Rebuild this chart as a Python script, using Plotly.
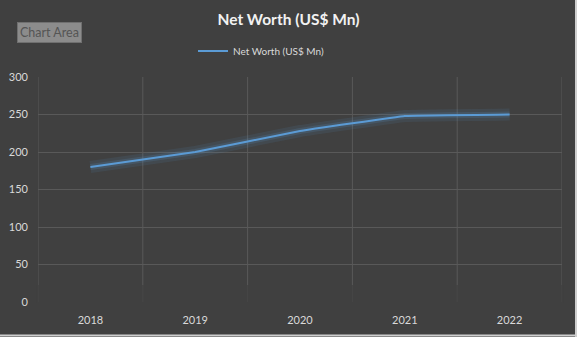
import plotly.graph_objects as go

years = ["2018", "2019", "2020", "2021", "2022"]
net_worth = [180, 200, 228, 248, 250]
y_ticks = [0, 50, 100, 150, 200, 250, 300]

W, H = 577, 337
ML, MR, MT, MB = 38, 15, 77, 35
PW, PH = W - ML - MR, H - MT - MB

def px_x(p):
    return (p - ML) / PW

def px_y(p):
    return (H - MB - p) / PH

fig = go.Figure()
# glow
fig.add_trace(go.Scatter(x=years, y=net_worth, mode="lines",
                         line=dict(color="rgba(91,155,213,0.10)", width=12, shape="spline", smoothing=0.15),
                         showlegend=False, hoverinfo="skip"))
fig.add_trace(go.Scatter(x=years, y=net_worth, mode="lines",
                         line=dict(color="rgba(91,155,213,0.16)", width=6, shape="spline", smoothing=0.15),
                         showlegend=False, hoverinfo="skip"))
fig.add_trace(go.Scatter(x=years, y=net_worth, mode="lines", name="Net Worth (US$ Mn)",
                         line=dict(color="#5b9bd5", width=2, shape="spline", smoothing=0.15)))

fig.update_layout(
    width=W, height=H,
    margin=dict(l=ML, r=MR, t=MT, b=MB, autoexpand=False),
    paper_bgcolor="#404040", plot_bgcolor="#404040",
    font=dict(family="Lato, Open Sans, sans-serif", color="#d9d9d9", size=11),
    title=dict(text="<b>Net Worth (US$ Mn)</b>", x=0.5, xanchor="center", y=1 - 20 / H, yanchor="middle",
               font=dict(size=15.5, color="#f2f2f2", family="Lato, Open Sans, sans-serif")),
    legend=dict(orientation="h", x=px_x(193), xanchor="left", y=px_y(51), yanchor="middle",
                font=dict(size=10, color="#d9d9d9"), bgcolor="rgba(0,0,0,0)", itemwidth=30),
    showlegend=True,
)
fig.update_xaxes(type="category", showgrid=False, zeroline=False, showline=False, automargin=False,
                 ticks="", ticklabelstandoff=10, tickfont=dict(size=11, color="#d9d9d9"), range=[-0.5, 4.5])
fig.update_yaxes(range=[0, 300], tickvals=y_ticks, showgrid=True, gridcolor="#595959", gridwidth=1,
                 zeroline=False, showline=False, ticks="", ticklabelstandoff=9, automargin=False,
                 tickfont=dict(size=11, color="#d9d9d9"))

# vertical category-boundary gridlines
for i in range(6):
    fig.add_shape(type="line", xref="x", yref="paper", x0=i - 0.5, x1=i - 0.5, y0=0, y1=1,
                  line=dict(color="#595959", width=1), layer="below")
# fade at bottom of plot area
fig.add_shape(type="rect", xref="paper", yref="paper", x0=-0.002, x1=1.002, y0=-0.005, y1=px_y(285),
              fillcolor="rgba(64,64,64,0.75)", line=dict(width=0), layer="below")

# outer light border (right & bottom)
fig.add_shape(type="line", xref="paper", yref="paper", x0=px_x(576), x1=px_x(576), y0=px_y(0), y1=px_y(337),
              line=dict(color="#cfcfcf", width=2))
fig.add_shape(type="line", xref="paper", yref="paper", x0=px_x(0), x1=px_x(577), y0=px_y(335.5), y1=px_y(335.5),
              line=dict(color="#cfcfcf", width=2))

# "Chart Area" tooltip
fig.add_annotation(text="Chart Area", xref="paper", yref="paper", x=px_x(49), y=px_y(32),
                   xanchor="center", yanchor="middle",
                   showarrow=False, font=dict(size=12.5, color="#555555"),
                   bgcolor="#8c8c8c", bordercolor="#707070", borderwidth=1, borderpad=2)

fig.write_html("out.html")
